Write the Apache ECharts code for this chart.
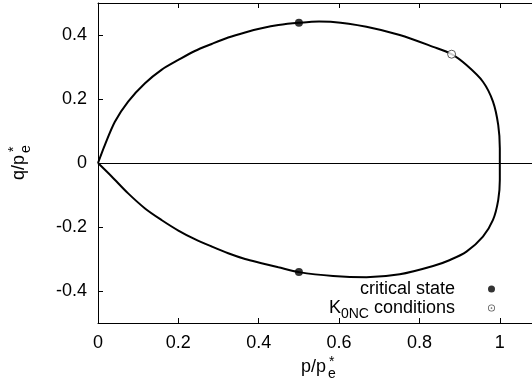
<!DOCTYPE html>
<html>
<head>
<meta charset="utf-8">
<script src="https://cdn.jsdelivr.net/npm/echarts@6/dist/echarts.min.js"></script>
<style>
  html, body { margin: 0; padding: 0; background: #fff; }
  #chart { width: 532px; height: 385px; }
</style>
</head>
<body>
<div id="chart"></div>
<script>
// upper branch of the surface, origin -> (1, 0)
const upperP = [0, 0.017, 0.042, 0.075, 0.117, 0.158, 0.200, 0.241, 0.283, 0.324, 0.366, 0.407, 0.449, 0.500, 0.550, 0.585, 0.668, 0.751, 0.834, 0.880, 0.917, 0.958, 0.983, 0.996, 1.000, 1.000];
const upperQ = [0, 0.056, 0.129, 0.192, 0.249, 0.291, 0.322, 0.350, 0.372, 0.392, 0.408, 0.421, 0.431, 0.438, 0.442, 0.441, 0.426, 0.400, 0.363, 0.340, 0.306, 0.254, 0.192, 0.119, 0.046, 0];
// lower branch, (1, 0) -> origin
const lowerP = [1.000, 1.000, 0.996, 0.983, 0.958, 0.917, 0.876, 0.834, 0.751, 0.668, 0.585, 0.500, 0.449, 0.407, 0.366, 0.324, 0.283, 0.241, 0.200, 0.158, 0.117, 0.075, 0.034, 0];
const lowerQ = [0, -0.053, -0.116, -0.178, -0.230, -0.277, -0.303, -0.322, -0.348, -0.357, -0.353, -0.341, -0.326, -0.313, -0.300, -0.282, -0.261, -0.238, -0.211, -0.178, -0.142, -0.095, -0.042, 0];

// marked states
const criticalP = [0.5, 0.5];
const criticalQ = [0.438, -0.341];
const k0ncP = [0.88];
const k0ncQ = [0.34];

// tick positions
const xTicks = [0, 0.2, 0.4, 0.6, 0.8, 1];
const yTicks = [-0.4, -0.2, 0, 0.2, 0.4];

const fontFamily = '"Liberation Sans", Arial, sans-serif';
const zip = (xs, ys) => xs.map((x, i) => [x, ys[i]]);
const surface = zip(upperP, upperQ).concat(zip(lowerP, lowerQ));

// ring with a dot, as in the key
const ringIcon = 'path://M0,-5A5,5 0 1,1 0,5A5,5 0 1,1 0,-5ZM0,-3.8A3.8,3.8 0 1,0 0,3.8A3.8,3.8 0 1,0 0,-3.8ZM0,-1.2A1.2,1.2 0 1,1 0,1.2A1.2,1.2 0 1,1 0,-1.2Z';

const axisLine = { show: true, onZero: false, lineStyle: { color: '#000', width: 1 } };
const labelStyle = { color: '#000', fontSize: 18, fontFamily: fontFamily };

// title text "p/p" with stacked * and e, drawn at a baseline-left origin
const starredTitle = (head) => [
  { type: 'text', x: 0, y: -6, style: { text: head, font: '18px ' + fontFamily, fill: '#000', verticalAlign: 'middle' } },
  { type: 'text', x: 28, y: -11, style: { text: '*', font: '14px ' + fontFamily, fill: '#000', verticalAlign: 'middle' } },
  { type: 'text', x: 27, y: 1, style: { text: 'e', font: '14px ' + fontFamily, fill: '#000', verticalAlign: 'middle' } }
];

// key entries: text right-aligned, symbols in one column
// (icon sits in the middle of a wide item box, which pushes the text left)
const keyBase = {
  right: 37,
  padding: 0,
  align: 'right',
  itemWidth: 63,
  itemHeight: 7,
  selectedMode: false
};

const chart = echarts.init(document.getElementById('chart'));

const option = {
  animation: false,
  // plot runs past the right edge (x max 1.1 is cut off)
  grid: { left: 98, top: 3, width: 442, height: 320, outerBoundsMode: 'none', containLabel: false },
  xAxis: [
    {
      type: 'value',
      min: 0,
      max: 1.1,
      position: 'bottom',
      axisLine: axisLine,
      axisTick: { show: true, inside: true, length: 5, customValues: xTicks, lineStyle: { color: '#000' } },
      axisLabel: Object.assign({ customValues: xTicks, margin: 11 }, labelStyle),
      splitLine: { show: false }
    },
    {
      type: 'value',
      min: 0,
      max: 1.1,
      position: 'top',
      axisLine: axisLine,
      axisTick: { show: true, inside: true, length: 5, customValues: xTicks, lineStyle: { color: '#000' } },
      axisLabel: { show: false },
      splitLine: { show: false }
    }
  ],
  yAxis: {
    type: 'value',
    min: -0.5,
    max: 0.5,
    axisLine: axisLine,
    axisTick: { show: true, inside: true, length: 5, customValues: yTicks, lineStyle: { color: '#000' } },
    axisLabel: Object.assign({ customValues: yTicks, margin: 11 }, labelStyle),
    splitLine: { show: false }
  },
  legend: [
    Object.assign({
      data: [{ name: 'critical state', icon: 'circle' }],
      top: 280,
      textStyle: labelStyle
    }, keyBase),
    Object.assign({
      data: [{ name: 'K0NC conditions', icon: ringIcon, itemStyle: { color: '#333', borderWidth: 0 } }],
      top: 299,
      formatter: () => 'K{s|0NC} conditions',
      textStyle: Object.assign({
        rich: { s: { fontSize: 14, fontFamily: fontFamily, color: '#000', padding: [12, 0, 0, 0] } }
      }, labelStyle)
    }, keyBase)
  ],
  graphic: [
    { type: 'group', x: 301, y: 373, children: starredTitle('p/p') },
    { type: 'group', x: 25, y: 180, rotation: Math.PI / 2, children: starredTitle('q/p') }
  ],
  series: [
    {
      name: 'surface',
      type: 'line',
      data: surface,
      showSymbol: false,
      smooth: 0.3,
      lineStyle: { color: '#000', width: 2 },
      markLine: {
        silent: true,
        symbol: 'none',
        label: { show: false },
        lineStyle: { color: '#000', width: 1, type: 'solid' },
        data: [{ yAxis: 0 }]
      },
      z: 2
    },
    {
      name: 'critical state',
      type: 'scatter',
      data: zip(criticalP, criticalQ),
      symbol: 'circle',
      symbolSize: 8,
      itemStyle: { color: '#000' },
      z: 3
    },
    {
      name: 'K0NC conditions',
      type: 'scatter',
      data: zip(k0ncP, k0ncQ),
      symbol: 'circle',
      symbolSize: 8,
      itemStyle: { color: '#fff', borderColor: '#333', borderWidth: 1 },
      z: 3
    }
  ]
};

chart.setOption(option);
</script>
</body>
</html>
